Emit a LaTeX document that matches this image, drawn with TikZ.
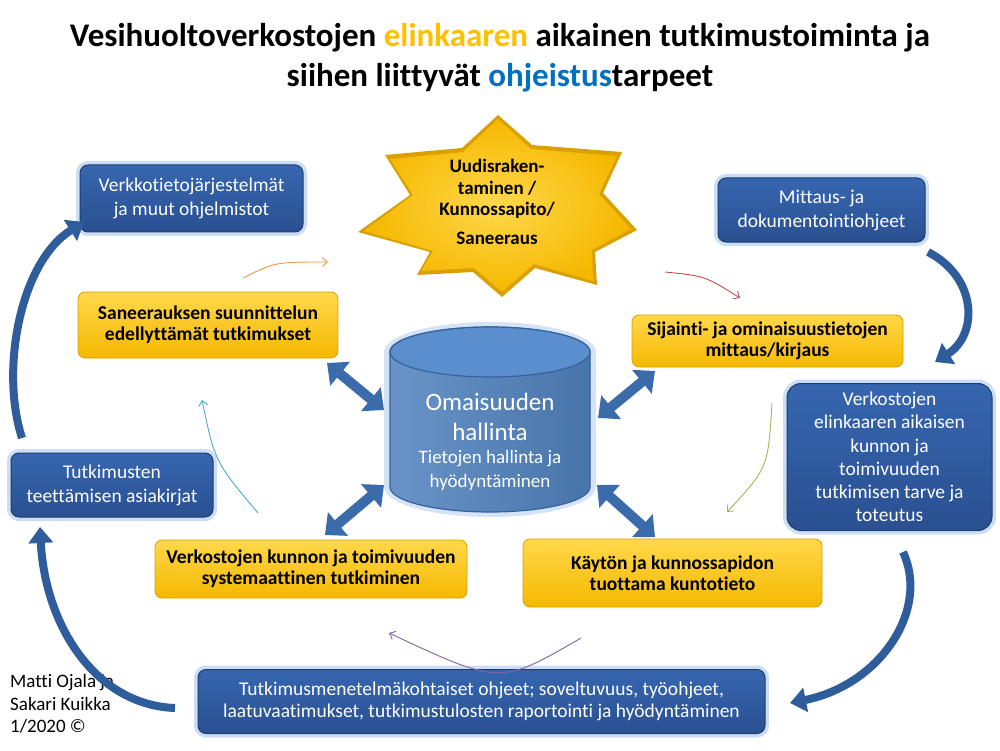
\documentclass[tikz,border=0pt]{standalone}
\usepackage{fontspec}
\setmainfont{Carlito}[Ligatures=NoCommon]
\usetikzlibrary{arrows.meta}
\definecolor{btop}{HTML}{3666B0}
\definecolor{bbot}{HTML}{2A5091}
\definecolor{bdark}{HTML}{1E3C70}
\definecolor{glow}{HTML}{B9D1F0}
\definecolor{ytop}{HTML}{FFD84A}
\definecolor{ybot}{HTML}{F5B800}
\definecolor{ydark}{HTML}{D9A000}
\definecolor{arrblue}{HTML}{3A6BAA}
\definecolor{curveblue}{HTML}{2F5D9C}
\definecolor{cylfill}{HTML}{4F81BD}
\definecolor{cyltop}{HTML}{5B8ECC}
\definecolor{cyldark}{HTML}{34629E}
\definecolor{torange}{HTML}{FFC000}
\definecolor{tblue}{HTML}{0070C0}
\definecolor{corange}{HTML}{F79646}
\definecolor{cred}{HTML}{C0504D}
\definecolor{cgreen}{HTML}{9BBB59}
\definecolor{cpurple}{HTML}{8064A2}
\definecolor{cteal}{HTML}{4BACC6}
\begin{document}
\begin{tikzpicture}[x=1pt,y=-1pt,
  bluebox/.style={rectangle, rounded corners=8pt, draw=bdark, line width=1pt,
    top color=btop, bottom color=bbot, text=white,
    font=\fontsize{19.5}{24}\selectfont, align=center, inner sep=0pt,
    preaction={draw=glow, line width=8pt, opacity=0.7}},
  yellowbox/.style={rectangle, rounded corners=7pt, draw=ydark, line width=0.8pt,
    top color=ytop, bottom color=ybot, text=black,
    font=\bfseries\fontsize{19.5}{21}\selectfont, align=center, inner sep=0pt},
  dblarrow/.style={{Triangle[length=17pt,width=30pt]}-{Triangle[length=17pt,width=30pt]},
    line width=10pt, draw=arrblue},
  bigcurve/.style={-{Triangle[length=16pt,width=24pt]}, line width=8pt, draw=curveblue},
  thinarrow/.style={-{Straight Barb[length=5pt,width=9pt]}, line width=0.9pt},
  plain/.style={inner sep=0pt, align=center}
]
\useasboundingbox (0,0) rectangle (1000,751);
\fill[white] (0,0) rectangle (1000,751);

% Title
\node[plain, font=\bfseries\fontsize{33}{40}\selectfont] (title) at (500,58)
  {Vesihuoltoverkostojen \textcolor{torange}{elinkaaren} aikainen tutkimustoiminta ja\\
   siihen liittyvät \textcolor{tblue}{ohjeistus}tarpeet};

% Star
\fill[ydark] (498,115) -- (532,145) -- (622,152) -- (603,193) -- (637,230) -- (595,252)
  -- (597,285) -- (535,268) -- (502,297) -- (473,272) -- (417,275) -- (430,252)
  -- (358,232) -- (410,195) -- (385,155) -- (462,148) -- cycle;
\shade[inner color=ytop, outer color=ybot] (498,119) -- (531,149) -- (617,156) -- (599,194) -- (631,229) -- (592,250)
  -- (593,281) -- (534,264) -- (502,292) -- (474,268) -- (421,271) -- (433,251)
  -- (364,231) -- (413,195) -- (390,159) -- (463,152) -- cycle;
\node[plain, font=\bfseries\fontsize{19}{21.5}\selectfont] (star) at (497,189)
  {Uudisraken-\\taminen /\\Kunnossapito/};
\node[plain, font=\bfseries\fontsize{19}{21}\selectfont] (star2) at (497,238) {Saneeraus};

% Cylinder
\fill[glow, opacity=0.6] (384,352) -- (384,487) arc[start angle=180, end angle=360, x radius=106pt, y radius=30pt]
  -- (596,352) arc[start angle=0, end angle=180, x radius=106pt, y radius=30pt] -- cycle;
\draw[cyldark, line width=1.2pt, left color=cylfill!85!white, right color=cylfill!90!black]
  (390,352) -- (390,487) arc[start angle=180, end angle=360, x radius=100pt, y radius=25pt]
  -- (590,352) arc[start angle=0, end angle=180, x radius=100pt, y radius=25pt] -- cycle;
\draw[cyldark, line width=1.2pt, fill=cyltop] (490,352) ellipse [x radius=100pt, y radius=25pt];
\node[plain, text=white, font=\fontsize{25}{30}\selectfont] (cyl) at (490,417) {Omaisuuden\\hallinta};
\node[plain, text=white, font=\fontsize{19}{24}\selectfont] (cylsub) at (490,470) {Tietojen hallinta ja\\hyödyntäminen};

% Blue boxes
\node[bluebox, minimum width=223pt, minimum height=67pt] (verkko) at (191.5,198.5)
  {Verkkotietojärjestelmät\\ja muut ohjelmistot};
\node[bluebox, minimum width=207pt, minimum height=64pt] (mittaus) at (821.5,210)
  {Mittaus- ja\\dokumentointiohjeet};
\node[bluebox, minimum width=202pt, minimum height=64pt] (tutk) at (112,485)
  {Tutkimusten\\teettämisen asiakirjat};
\node[bluebox, minimum width=205pt, minimum height=147pt, rounded corners=14pt,
  font=\fontsize{19.5}{23.2}\selectfont] (verkostot) at (889.5,457)
  {Verkostojen\\elinkaaren aikaisen\\kunnon ja\\toimivuuden\\tutkimisen tarve ja\\toteutus};
\node[bluebox, minimum width=567pt, minimum height=64pt, font=\fontsize{19.5}{22}\selectfont] (ohjeet) at (481.5,701.5)
  {Tutkimusmenetelmäkohtaiset ohjeet; soveltuvuus, työohjeet,\\
   laatuvaatimukset, tutkimustulosten raportointi ja hyödyntäminen};

% Yellow boxes
\node[yellowbox, minimum width=260pt, minimum height=66pt] (sanee) at (208,325)
  {Saneerauksen suunnittelun\\edellyttämät tutkimukset};
\node[yellowbox, minimum width=271pt, minimum height=52pt] (sijainti) at (767.5,341)
  {Sijainti- ja ominaisuustietojen\\mittaus/kirjaus};
\node[yellowbox, minimum width=312pt, minimum height=58pt] (systm) at (311,569)
  {Verkostojen kunnon ja toimivuuden\\systemaattinen tutkiminen};
\node[yellowbox, minimum width=299pt, minimum height=68pt] (kayton) at (672.5,573)
  {Käytön ja kunnossapidon\\tuottama kuntotieto};

% Credits (drawn under the curved arrow, as in the reference)
\node[anchor=west, inner sep=0pt, align=left, font=\fontsize{19}{22.5}\selectfont] (credit) at (10,704)
  {Matti Ojala ja\\Sakari Kuikka\\1/2020 ©};

% Double arrows between cylinder and yellow boxes
\coordinate (ula) at (327,363); \coordinate (ulb) at (384,410);
\coordinate (lla) at (384,485); \coordinate (llb) at (325,535);
\coordinate (ura) at (598,418); \coordinate (urb) at (655,371);
\coordinate (lra) at (597,485); \coordinate (lrb) at (655,537);
\draw[dblarrow] (ula) -- (ulb);
\draw[dblarrow] (lla) -- (llb);
\draw[dblarrow] (ura) -- (urb);
\draw[dblarrow] (lra) -- (lrb);

% Outer curved arrows
\coordinate (c1a) at (22,438); \coordinate (c1b) at (84,222);
\draw[bigcurve] (c1a) .. controls (0,370) and (20,262) .. (c1b);
\coordinate (c2a) at (928,252); \coordinate (c2b) at (935,362);
\draw[bigcurve] (c2a) .. controls (978,278) and (978,335) .. (c2b);
\coordinate (c3a) at (903,552); \coordinate (c3b) at (790,703);
\draw[bigcurve] (c3a) .. controls (930,610) and (880,685) .. (c3b);
\coordinate (c4a) at (175,708); \coordinate (c4b) at (40,527);
\draw[bigcurve] (c4a) .. controls (95,705) and (45,625) .. (c4b);

% Inner thin arrows
\coordinate (t1a) at (243,278); \coordinate (t1b) at (328,262);
\draw[thinarrow, corange] (t1a) .. controls (275,262) .. (t1b);
\coordinate (t2a) at (665,272); \coordinate (t2b) at (740,298);
\draw[thinarrow, cred] (t2a) .. controls (705,276) .. (t2b);
\coordinate (t3a) at (772,403); \coordinate (t3b) at (727,512);
\draw[thinarrow, cgreen] (t3a) .. controls (768,468) .. (t3b);
\coordinate (t4a) at (581,638); \coordinate (t4b) at (389,633);
\draw[thinarrow, cpurple] (t4a) .. controls (500,685) .. (t4b);
\coordinate (t5a) at (258,513); \coordinate (t5b) at (202,400);
\draw[thinarrow, cteal] (t5a) .. controls (215,462) .. (t5b);
\end{tikzpicture}
\end{document}
